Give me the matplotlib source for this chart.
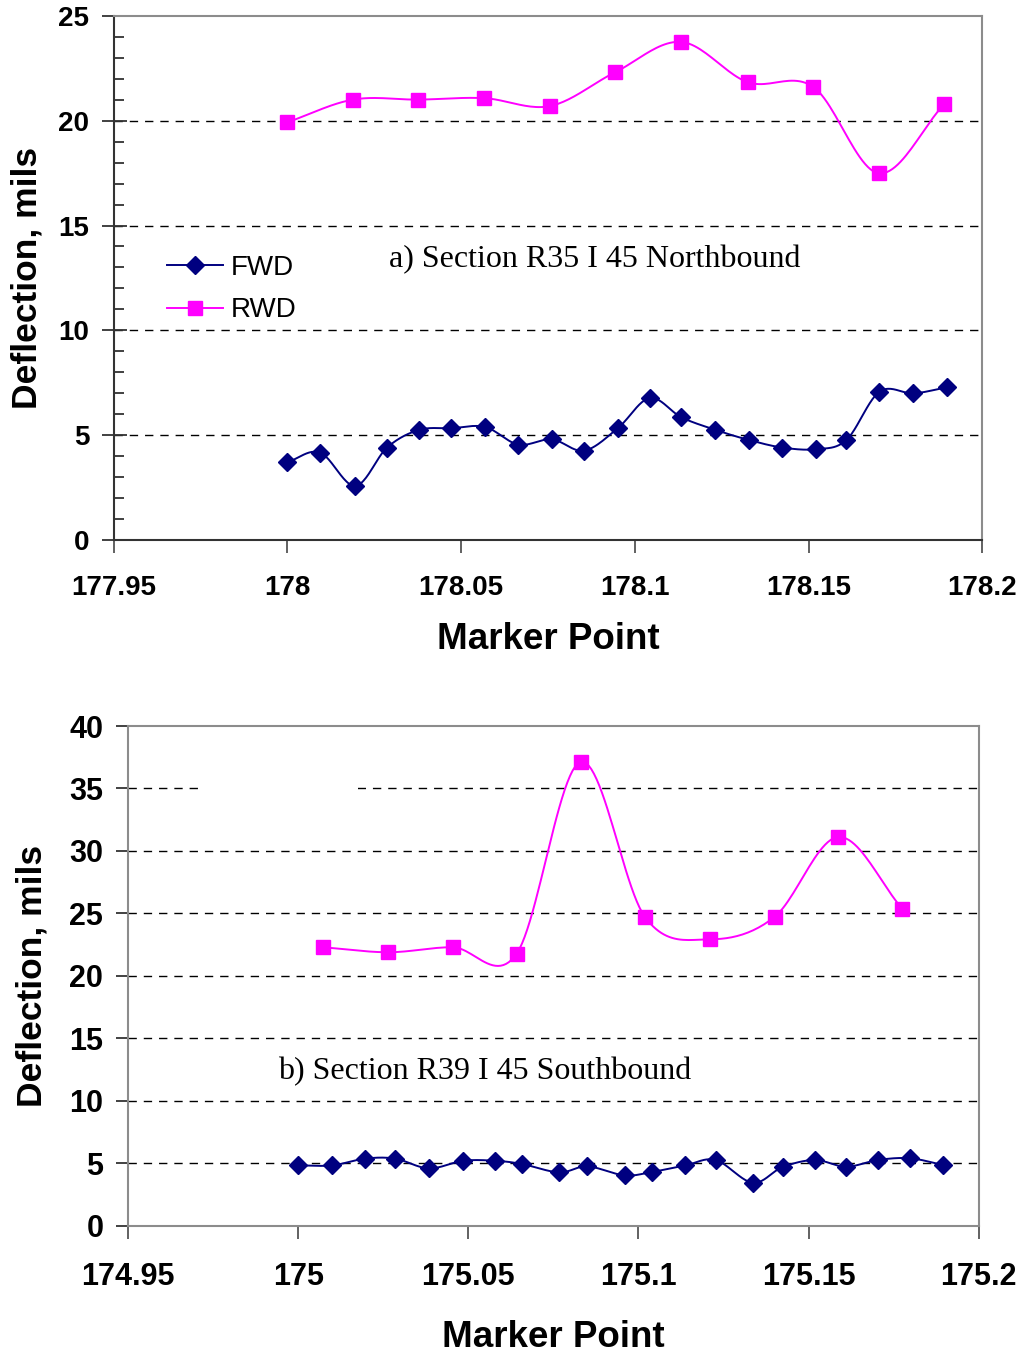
import numpy as np
import matplotlib
matplotlib.use("Agg")
import matplotlib.pyplot as plt
from matplotlib.ticker import MultipleLocator, FixedLocator
from matplotlib.patches import Rectangle

# Section R35 I 45 Northbound
north_fwd_mp = [178.0, 178.0094, 178.0195, 178.0287, 178.0379, 178.0472, 178.0569,
                178.0665, 178.0761, 178.0854, 178.0951, 178.1043, 178.1134, 178.1232,
                178.1328, 178.1424, 178.1521, 178.1609, 178.1704, 178.1802, 178.1898]
north_fwd = [3.72, 4.18, 2.59, 4.42, 5.26, 5.34, 5.40, 4.56, 4.81, 4.27, 5.34,
             6.78, 5.86, 5.26, 4.78, 4.42, 4.34, 4.78, 7.08, 7.00, 7.29]
north_rwd_mp = [178.0, 178.0189, 178.0377, 178.0566, 178.0755, 178.0943, 178.1133,
                178.1325, 178.1514, 178.1702, 178.1890]
north_rwd = [19.92, 21.0, 21.0, 21.07, 20.69, 22.3, 23.75, 21.83, 21.6, 17.49, 20.78]

# Section R39 I 45 Southbound
south_fwd_mp = [175.0, 175.0099, 175.0196, 175.0285, 175.0384, 175.0485, 175.0578,
                175.0658, 175.0767, 175.0850, 175.0959, 175.1039, 175.1138, 175.1227,
                175.1336, 175.1424, 175.1519, 175.1610, 175.1703, 175.1798, 175.1896]
south_fwd = [4.83, 4.83, 5.37, 5.37, 4.59, 5.20, 5.20, 4.94, 4.27, 4.75, 4.03,
             4.30, 4.83, 5.26, 3.44, 4.70, 5.26, 4.72, 5.26, 5.40, 4.86]
south_rwd_mp = [175.0072, 175.0265, 175.0454, 175.0642, 175.0830, 175.1019, 175.1211,
                175.1400, 175.1588, 175.1776]
south_rwd = [22.29, 21.89, 22.29, 21.78, 37.13, 24.72, 22.93, 24.72, 31.12, 25.36]

north_xticks = [177.95, 178.0, 178.05, 178.1, 178.15, 178.2]
north_xlabels = ["177.95", "178", "178.05", "178.1", "178.15", "178.2"]
south_xticks = [174.95, 175.0, 175.05, 175.1, 175.15, 175.2]
south_xlabels = ["174.95", "175", "175.05", "175.1", "175.15", "175.2"]

FWD_COLOR = "#000080"
RWD_COLOR = "#FF00FF"
SANS = "Liberation Sans"
SERIF = "Liberation Serif"


def smooth(x, y, n=24):
    """Catmull-Rom curve through the points (spreadsheet-style smoothed line)."""
    x = np.asarray(x, float)
    y = np.asarray(y, float)
    px = np.concatenate([[2 * x[0] - x[1]], x, [2 * x[-1] - x[-2]]])
    py = np.concatenate([[2 * y[0] - y[1]], y, [2 * y[-1] - y[-2]]])
    xs, ys = [], []
    t = np.linspace(0, 1, n, endpoint=False)
    for i in range(1, len(px) - 2):
        for p, out in ((px, xs), (py, ys)):
            p0, p1, p2, p3 = p[i - 1], p[i], p[i + 1], p[i + 2]
            out.extend(0.5 * ((2 * p1) + (-p0 + p2) * t
                              + (2 * p0 - 5 * p1 + 4 * p2 - p3) * t ** 2
                              + (-p0 + 3 * p1 - 3 * p2 + p3) * t ** 3))
    xs.append(x[-1])
    ys.append(y[-1])
    return np.array(xs), np.array(ys)


def draw_series(ax, x, y, color, marker, ms, label):
    sx, sy = smooth(x, y)
    ax.plot(sx, sy, color=color, lw=1.4, zorder=3)
    ax.plot(x, y, linestyle="none", marker=marker, color=color, ms=ms,
            markeredgecolor=color, zorder=4)
    ax.plot([], [], color=color, lw=1.4, marker=marker, ms=ms, label=label)


def style_ticklabels(ax, size):
    for lab in ax.get_xticklabels() + ax.get_yticklabels():
        lab.set_fontfamily(SANS)
        lab.set_fontweight("bold")
        lab.set_fontsize(size)


fig = plt.figure(figsize=(10.26, 13.52), dpi=100)

# ---------- a) Northbound ----------
ax1 = fig.add_axes([0.1108, 0.6004, 0.8466, 0.3880])
draw_series(ax1, north_fwd_mp, north_fwd, FWD_COLOR, "D", 9, "FWD")
draw_series(ax1, north_rwd_mp, north_rwd, RWD_COLOR, "s", 10, "RWD")
ax1.set_xlim(177.95, 178.2)
ax1.set_ylim(0, 25)
ax1.xaxis.set_major_locator(FixedLocator(north_xticks))
ax1.set_xticklabels(north_xlabels)
ax1.yaxis.set_major_locator(MultipleLocator(5))
ax1.yaxis.set_minor_locator(MultipleLocator(1))
for yv in [5, 10, 15, 20]:
    ax1.axhline(yv, color="black", lw=1.0, ls=(0, (6, 5)), zorder=1)
for side in ["top", "right"]:
    ax1.spines[side].set_color("#8c8c8c")
    ax1.spines[side].set_linewidth(1.5)
for side in ["left", "bottom"]:
    ax1.spines[side].set_color("#333333")
    ax1.spines[side].set_linewidth(1.5)
ax1.tick_params(axis="y", which="major", direction="inout", length=18, width=1.3,
                color="#333333", pad=8.5)
ax1.tick_params(axis="y", which="minor", direction="in", length=7, width=1.3,
                color="#333333")
ax1.tick_params(axis="x", which="major", direction="out", length=9, width=1.3,
                color="#555555", pad=16)
style_ticklabels(ax1, 20)
ax1.set_xlabel("Marker Point", fontfamily=SANS, fontweight="bold", fontsize=26.5,
               labelpad=15)
ax1.set_ylabel("Deflection, mils", fontfamily=SANS, fontweight="bold", fontsize=25.5,
               labelpad=11)
ax1.text(389 / 1026, 1 - 260 / 1352, "a) Section R35 I 45 Northbound",
         transform=fig.transFigure, fontfamily=SERIF, fontsize=23,
         ha="left", va="center")
ax1.legend(loc="center left", bbox_to_anchor=(167 / 1026, 1 - 289 / 1352),
           bbox_transform=fig.transFigure, frameon=False, borderpad=0,
           borderaxespad=0, prop={"family": SANS, "size": 20}, handlelength=2.0,
           handletextpad=0.3, labelspacing=0.6)

# ---------- b) Southbound ----------
ax2 = fig.add_axes([0.1250, 0.0934, 0.8288, 0.3696])
draw_series(ax2, south_fwd_mp, south_fwd, FWD_COLOR, "D", 9, "FWD")
draw_series(ax2, south_rwd_mp, south_rwd, RWD_COLOR, "s", 10, "RWD")
ax2.set_xlim(174.95, 175.2)
ax2.set_ylim(0, 40)
ax2.xaxis.set_major_locator(FixedLocator(south_xticks))
ax2.set_xticklabels(south_xlabels)
ax2.yaxis.set_major_locator(MultipleLocator(5))
for yv in [5, 10, 15, 20, 25, 30, 35]:
    ax2.axhline(yv, color="black", lw=1.0, ls=(0, (6, 5)), zorder=1)
# blank area over the 35 gridline (empty legend box)
ax2.add_patch(Rectangle((198 / 1026, 1 - 800 / 1352), 160 / 1026, 24 / 1352,
                        transform=fig.transFigure, facecolor="white",
                        edgecolor="none", zorder=2))
for side in ["top", "right", "left", "bottom"]:
    ax2.spines[side].set_color("#8c8c8c")
    ax2.spines[side].set_linewidth(1.5)
ax2.tick_params(axis="y", which="major", direction="out", length=9, width=1.3,
                color="#333333", pad=9)
ax2.tick_params(axis="x", which="major", direction="out", length=9, width=1.3,
                color="#555555", pad=17)
style_ticklabels(ax2, 22)
ax2.set_xlabel("Marker Point", fontfamily=SANS, fontweight="bold", fontsize=26.5,
               labelpad=20)
ax2.set_ylabel("Deflection, mils", fontfamily=SANS, fontweight="bold", fontsize=25.5,
               labelpad=15)
ax2.text(278 / 1026, 1 - 1072 / 1352, "b) Section R39 I 45 Southbound",
         transform=fig.transFigure, fontfamily=SERIF, fontsize=23,
         ha="left", va="center")

fig.savefig("out.png", dpi=100, facecolor="white")
